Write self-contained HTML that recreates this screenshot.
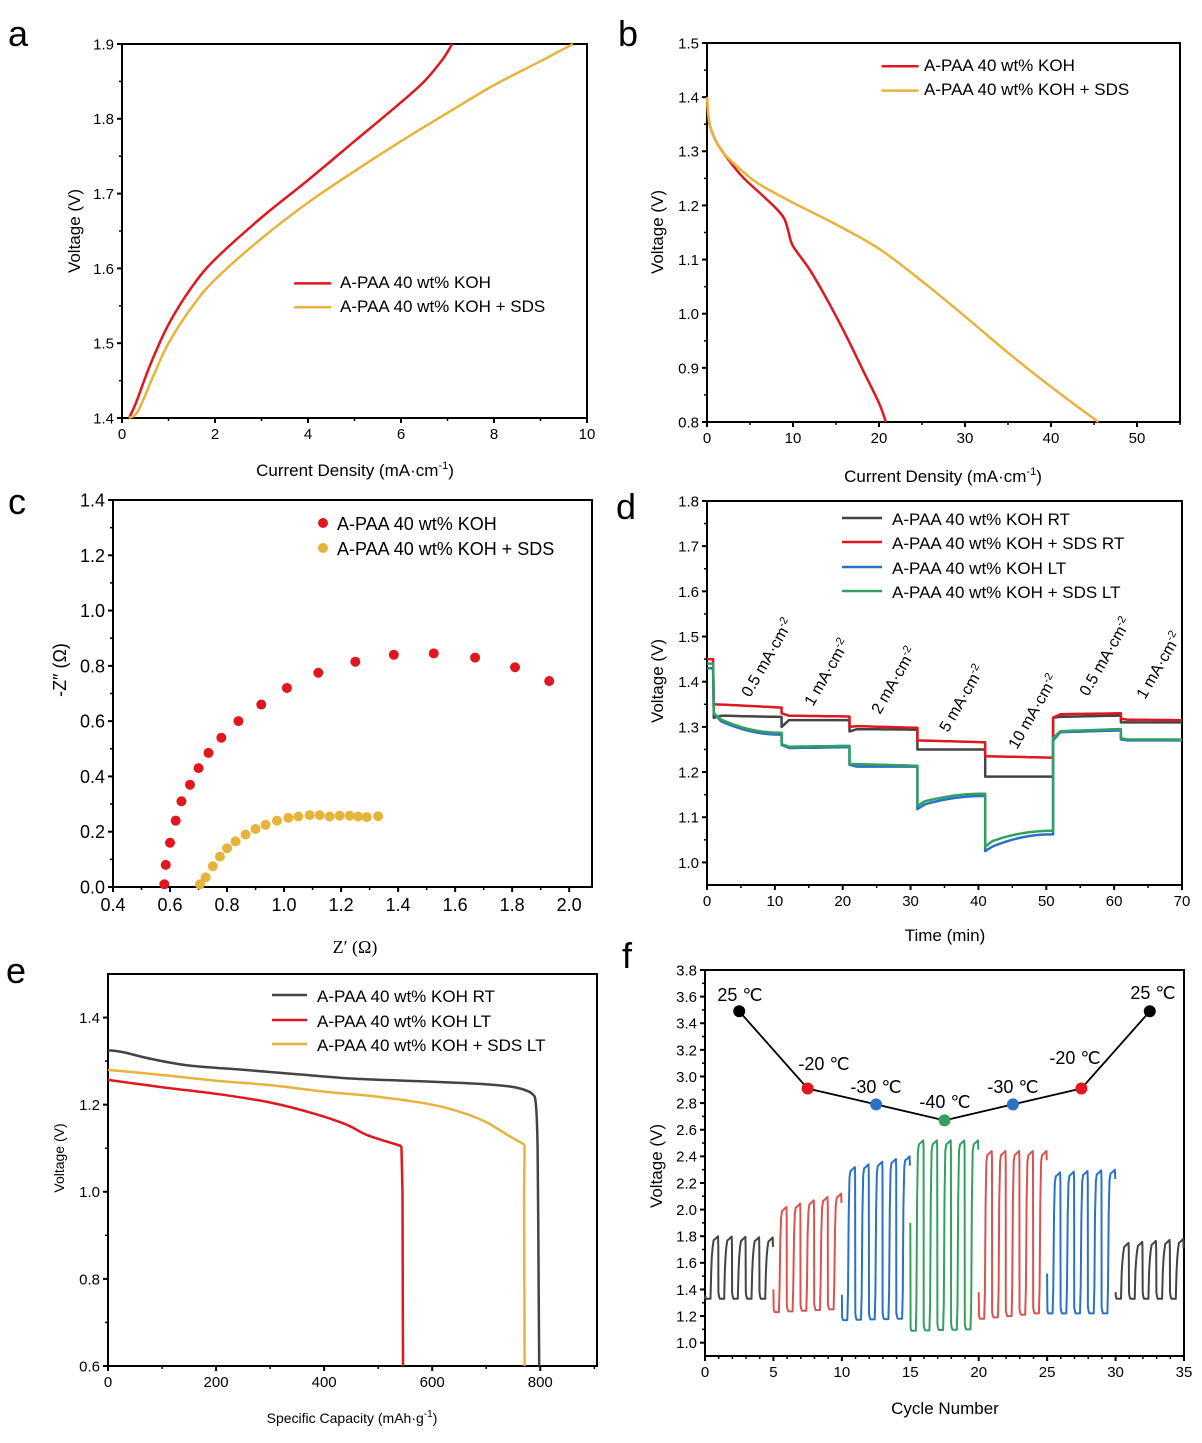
<!DOCTYPE html>
<html><head><meta charset="utf-8">
<style>
html,body{margin:0;padding:0;background:#fff;}
svg{display:block;font-family:"Liberation Sans",Arial,sans-serif;}
</style></head>
<body>
<svg id="s" width="1202" height="1443" viewBox="0 0 1202 1443" xmlns="http://www.w3.org/2000/svg"></svg>
<script>
var out=[];
function P(s){out.push(s);}
function mk(px0,px1,py0,py1,x0,x1,y0,y1){
  return {X:function(v){return px0+(v-x0)/(x1-x0)*(px1-px0);},Y:function(v){return py1-(v-y0)/(y1-y0)*(py1-py0);},px0:px0,px1:px1,py0:py0,py1:py1};
}
function axes(m,xt,yt,xminor,yminor,fs,xfmt,yfmt){
  P('<rect x="'+m.px0+'" y="'+m.py0+'" width="'+(m.px1-m.px0)+'" height="'+(m.py1-m.py0)+'" fill="none" stroke="#000" stroke-width="2"/>');
  xt.forEach(function(v){var x=m.X(v);P('<line x1="'+x+'" y1="'+m.py1+'" x2="'+x+'" y2="'+(m.py1+5)+'" stroke="#000" stroke-width="2"/>');
    P('<text x="'+x+'" y="'+(m.py1+fs+6)+'" font-size="'+fs+'" text-anchor="middle">'+xfmt(v)+'</text>');});
  xminor.forEach(function(v){var x=m.X(v);P('<line x1="'+x+'" y1="'+m.py1+'" x2="'+x+'" y2="'+(m.py1+3)+'" stroke="#000" stroke-width="1.5"/>');});
  yt.forEach(function(v){var y=m.Y(v);P('<line x1="'+(m.px0-5)+'" y1="'+y+'" x2="'+m.px0+'" y2="'+y+'" stroke="#000" stroke-width="2"/>');
    P('<text x="'+(m.px0-8)+'" y="'+(y+fs*0.36)+'" font-size="'+fs+'" text-anchor="end">'+yfmt(v)+'</text>');});
  yminor.forEach(function(v){var y=m.Y(v);P('<line x1="'+(m.px0-3)+'" y1="'+y+'" x2="'+m.px0+'" y2="'+y+'" stroke="#000" stroke-width="1.5"/>');});
}
function rng(a,b,s){var r=[];for(var v=a;v<=b+1e-9;v+=s)r.push(Math.round(v*1000)/1000);return r;}
function f1(v){return v.toFixed(1);}function f0(v){return String(Math.round(v));}
function line(m,pts,col,w){var d=pts.map(function(p,i){return (i?'L':'M')+m.X(p[0]).toFixed(1)+' '+m.Y(p[1]).toFixed(1);}).join('');
  P('<path d="'+d+'" fill="none" stroke="'+col+'" stroke-width="'+(w||2.5)+'" stroke-linejoin="round"/>');}
function smooth(m,pts,col,w){
  var q=pts.map(function(p){return [m.X(p[0]),m.Y(p[1])];});var d='M'+q[0][0]+' '+q[0][1];
  for(var i=0;i<q.length-1;i++){var p0=q[i-1]||q[i],p1=q[i],p2=q[i+1],p3=q[i+2]||p2;
    d+='C'+(p1[0]+(p2[0]-p0[0])/6).toFixed(1)+' '+(p1[1]+(p2[1]-p0[1])/6).toFixed(1)+' '+(p2[0]-(p3[0]-p1[0])/6).toFixed(1)+' '+(p2[1]-(p3[1]-p1[1])/6).toFixed(1)+' '+p2[0].toFixed(1)+' '+p2[1].toFixed(1);}
  P('<path d="'+d+'" fill="none" stroke="'+col+'" stroke-width="'+(w||2.5)+'"/>');}
function T(x,y,s,fs,anc,extra){P('<text x="'+x+'" y="'+y+'" font-size="'+fs+'"'+(anc?' text-anchor="'+anc+'"':'')+(extra||'')+'>'+s+'</text>');}
function VT(x,y,s,fs){P('<text transform="translate('+x+','+y+') rotate(-90)" font-size="'+fs+'" text-anchor="middle">'+s+'</text>');}
function SUP(s,sz,dy){return '<tspan dy="-'+dy+'" font-size="'+sz+'">'+s+'</tspan><tspan dy="'+dy+'">)</tspan>';}
var RED='#e0171f',YEL='#e6b43c',GRY='#444',BLU='#2a72c8',GRN='#32a060';

T(8,46,'a',36);T(618,46,'b',36);T(8,514,'c',36);T(616,519,'d',36);T(6,983,'e',36);T(622,968,'f',36);

// ---- a
var a=mk(122,587,44,418,0,10,1.4,1.9);
axes(a,rng(0,10,2),rng(1.4,1.9,0.1),rng(1,9,2),rng(1.45,1.85,0.1),15,f0,f1);
smooth(a,[[0.15,1.4],[0.3,1.42],[0.6,1.47],[1,1.525],[1.5,1.575],[2,1.612],[3,1.668],[4,1.718],[5,1.77],[6,1.822],[6.5,1.85],[6.9,1.88],[7.1,1.9]],RED);
smooth(a,[[0.15,1.4],[0.35,1.41],[0.7,1.46],[1,1.5],[1.5,1.548],[2,1.585],[3,1.64],[4,1.688],[5,1.73],[6,1.77],[7,1.808],[8,1.845],[9,1.877],[9.7,1.9]],YEL);
line(a,[[3.7,1.58],[4.5,1.58]],RED);line(a,[[3.7,1.548],[4.5,1.548]],YEL);
T(340,288,'A-PAA 40 wt% KOH',17);T(340,312,'A-PAA 40 wt% KOH + SDS',17);
T(355,476,'Current Density (mA·cm'+SUP('-1',11,7),17,'middle');
VT(80,231,'Voltage (V)',17);

// ---- b
var b=mk(707,1180,43,422,0,55,0.8,1.5);
axes(b,rng(0,50,10),rng(0.8,1.5,0.1),rng(5,55,10),rng(0.85,1.45,0.1),15,f0,f1);
smooth(b,[[0,1.39],[0.3,1.35],[1,1.32],[2,1.295],[4,1.255],[6,1.225],[8,1.195],[9,1.175],[9.5,1.15],[10,1.125],[12,1.08],[14,1.025],[16,0.965],[18,0.9],[20,0.835],[20.8,0.8]],RED);
smooth(b,[[0,1.40],[0.3,1.35],[1,1.32],[2,1.295],[4,1.265],[6,1.24],[10,1.205],[15,1.165],[20,1.12],[25,1.06],[30,0.995],[35,0.928],[40,0.865],[45.5,0.8]],YEL);
line(b,[[20.3,1.457],[24.6,1.457]],RED);line(b,[[20.3,1.412],[24.6,1.412]],YEL);
T(924,71,'A-PAA 40 wt% KOH',17);T(924,95,'A-PAA 40 wt% KOH + SDS',17);
T(943,482,'Current Density (mA·cm'+SUP('-1',11,7),17,'middle');
VT(663,232,'Voltage (V)',17);

// ---- c
var c=mk(113,592,500,887,0.4,2.08,0,1.4);
axes(c,rng(0.4,2.0,0.2),rng(0,1.4,0.2),rng(0.5,1.9,0.2),rng(0.1,1.3,0.2),18,f1,f1);
[[0.58,0.01],[0.585,0.08],[0.60,0.16],[0.62,0.24],[0.64,0.31],[0.67,0.37],[0.70,0.43],[0.735,0.485],[0.78,0.54],[0.84,0.60],[0.92,0.66],[1.01,0.72],[1.12,0.775],[1.25,0.815],[1.385,0.84],[1.525,0.845],[1.67,0.83],[1.81,0.795],[1.93,0.745]].forEach(function(p){P('<circle cx="'+c.X(p[0])+'" cy="'+c.Y(p[1])+'" r="5" fill="'+RED+'"/>');});
[[0.705,0.01],[0.725,0.035],[0.75,0.075],[0.775,0.11],[0.80,0.14],[0.83,0.165],[0.865,0.19],[0.90,0.21],[0.935,0.225],[0.975,0.24],[1.015,0.25],[1.05,0.255],[1.09,0.26],[1.125,0.26],[1.16,0.255],[1.195,0.258],[1.23,0.258],[1.26,0.255],[1.29,0.253],[1.33,0.256]].forEach(function(p){P('<circle cx="'+c.X(p[0])+'" cy="'+c.Y(p[1])+'" r="5" fill="'+YEL+'"/>');});
P('<circle cx="323" cy="523" r="5" fill="'+RED+'"/><circle cx="323" cy="548" r="5" fill="'+YEL+'"/>');
T(337,530,'A-PAA 40 wt% KOH',18);T(337,555,'A-PAA 40 wt% KOH + SDS',18);
T(355,953,'Z′ (Ω)',18,'middle',' font-family="Liberation Serif, serif"');
VT(66,670,'-Z″ (Ω)',18);

// ---- d
var d=mk(707,1182,501,885,0,70,0.95,1.8);
axes(d,rng(0,70,10),rng(1.0,1.8,0.1),rng(5,65,10),rng(1.05,1.75,0.1),15,f0,f1);
function steps(levels,col){var pts=[[0,levels[0][0]],[0.9,levels[0][1]]];
  for(var i=1;i<levels.length;i++){var s=i==1?1:1+(i-1)*10,e=Math.min(s+10,70);var L=levels[i];
    pts.push([s,L[0]]);var n=12;for(var k=1;k<=n;k++){var t=k/n;pts.push([s+0.3+(e-s-0.6)*t,L[1]+(L[2]-L[1])*(1-Math.pow(1-t,L[3]||1))]);}
    pts.push([e,L[2]]);}
  line(d,pts,col,2.5);}
steps([[1.43,1.43],[1.32,1.325,1.322],[1.30,1.315,1.315],[1.29,1.295,1.294],[1.25,1.25,1.25],[1.19,1.19,1.19],[1.32,1.322,1.325],[1.31,1.31,1.31]],GRY);
steps([[1.45,1.45],[1.35,1.35,1.343],[1.33,1.325,1.323],[1.30,1.302,1.298],[1.27,1.27,1.266],[1.235,1.235,1.232],[1.32,1.328,1.33],[1.318,1.316,1.315]],RED);
steps([[1.43,1.43],[1.33,1.318,1.283,2],[1.26,1.253,1.255],[1.216,1.212,1.212],[1.118,1.125,1.147,2],[1.025,1.03,1.062,2],[1.27,1.288,1.292],[1.272,1.27,1.27]],BLU);
steps([[1.44,1.44],[1.33,1.322,1.287,2],[1.262,1.256,1.258],[1.218,1.218,1.214],[1.125,1.132,1.152,2],[1.035,1.043,1.07,2],[1.275,1.29,1.295],[1.275,1.272,1.272]],GRN);
[[750,698,'0.5 mA·cm'],[813,707,'1 mA·cm'],[880,715,'2 mA·cm'],[948,733,'5 mA·cm'],[1017,750,'10 mA·cm'],[1088,697,'0.5 mA·cm'],[1145,700,'1 mA·cm']].forEach(function(l){
  P('<text transform="translate('+l[0]+','+l[1]+') rotate(-60)" font-size="16">'+l[2]+'<tspan dy="-6" font-size="11">-2</tspan></text>');});
[[GRY,'A-PAA 40 wt% KOH RT',519],[RED,'A-PAA 40 wt% KOH + SDS RT',543],[BLU,'A-PAA 40 wt% KOH LT',568],[GRN,'A-PAA 40 wt% KOH + SDS LT',592]].forEach(function(l){
  P('<line x1="842" y1="'+(l[2]-1)+'" x2="882" y2="'+(l[2]-1)+'" stroke="'+l[0]+'" stroke-width="2.5"/>');T(892,l[2]+6,l[1],17);});
T(945,941,'Time (min)',17,'middle');VT(663,681,'Voltage (V)',17);

// ---- e
var e=mk(108,597,974,1366,0,905,0.6,1.5);
axes(e,rng(0,800,200),rng(0.6,1.4,0.2),rng(100,900,200),rng(0.7,1.3,0.2),15,f0,f1);
smooth(e,[[0,1.325],[30,1.32],[80,1.305],[150,1.29],[250,1.28],[350,1.27],[450,1.26],[550,1.255],[650,1.25],[720,1.245],[760,1.238],[785,1.225],[792,1.2],[795,1.1],[797,0.8],[798,0.6]],GRY);
smooth(e,[[0,1.257],[100,1.24],[200,1.225],[300,1.205],[380,1.18],[440,1.155],[480,1.13],[543,1.105]],RED);
line(e,[[543,1.105],[545,1.0],[546,0.6]],RED);
smooth(e,[[0,1.28],[100,1.268],[200,1.255],[300,1.245],[400,1.23],[500,1.218],[600,1.2],[660,1.18],[700,1.16],[740,1.13],[771,1.108]],YEL);
line(e,[[771,1.108],[770,1.0],[771,0.6]],YEL);
[[GRY,'A-PAA 40 wt% KOH RT',995],[RED,'A-PAA 40 wt% KOH LT',1020],[YEL,'A-PAA 40 wt% KOH + SDS LT',1044]].forEach(function(l){
  P('<line x1="272" y1="'+l[2]+'" x2="307" y2="'+l[2]+'" stroke="'+l[0]+'" stroke-width="2.5"/>');T(317,l[2]+7,l[1],17);});
T(352,1423,'Specific Capacity (mAh·g'+SUP('-1',10,6),14,'middle');VT(64,1158,'Voltage (V)',14);

// ---- f
var f=mk(705,1184,970,1356,0,35,0.9,3.8);
axes(f,rng(0,35,5),rng(1.0,3.8,0.2),rng(1,34,1).filter(function(v){return v%5;}),rng(1.1,3.7,0.2),15,f0,f1);
function seg(t0,startV,lows,highs,col){var pts=[[t0,startV]];
  for(var k=0;k<5;k++){var s=t0+k,lo=lows[0]+(lows[1]-lows[0])*k/4,hi=highs[0]+(highs[1]-highs[0])*k/4;
    pts.push([s+0.02,lo+0.02],[s+0.08,lo],[s+0.4,lo],[s+0.45,lo+0.2],[s+0.5,lo+(hi-lo)*0.7],[s+0.56,hi-0.06],[s+0.63,hi-0.01],[s+0.75,hi],[s+0.95,hi+0.02],[s+0.97,hi-0.05]);
    if(k<4)pts.push([s+0.98,lo+0.05]);}
  line(f,pts,col,2);}
seg(0,1.33,[1.33,1.33],[1.78,1.77],GRY);
seg(5,1.40,[1.23,1.25],[2.0,2.1],'#d9534f');
seg(10,1.36,[1.17,1.18],[2.3,2.38],BLU);
seg(15,1.9,[1.09,1.1],[2.5,2.5],GRN);
seg(20,1.38,[1.18,1.22],[2.42,2.42],'#d9534f');
seg(25,1.52,[1.22,1.22],[2.26,2.28],BLU);
seg(30,1.38,[1.33,1.33],[1.73,1.76],GRY);
var tp=[[2.5,3.49,'#000'],[7.5,2.91,RED],[12.5,2.79,BLU],[17.5,2.67,GRN],[22.5,2.79,BLU],[27.5,2.91,RED],[32.5,3.49,'#000']];
line(f,tp.map(function(p){return [p[0],p[1]];}),'#000',1.8);
tp.forEach(function(p){var x=f.X(p[0]),y=f.Y(p[1]);P('<circle cx="'+x+'" cy="'+y+'" r="6" fill="'+p[2]+'"/>');});
[[740,1001,'25 ℃'],[824,1070,'-20 ℃'],[876,1093,'-30 ℃'],[945,1108,'-40 ℃'],[1013,1093,'-30 ℃'],[1075,1064,'-20 ℃'],[1153,999,'25 ℃']].forEach(function(l){T(l[0],l[1],l[2],18,'middle');});
T(945,1414,'Cycle Number',17,'middle');VT(662,1166,'Voltage (V)',17);

document.getElementById('s').innerHTML=out.join('');
</script>
</body></html>
